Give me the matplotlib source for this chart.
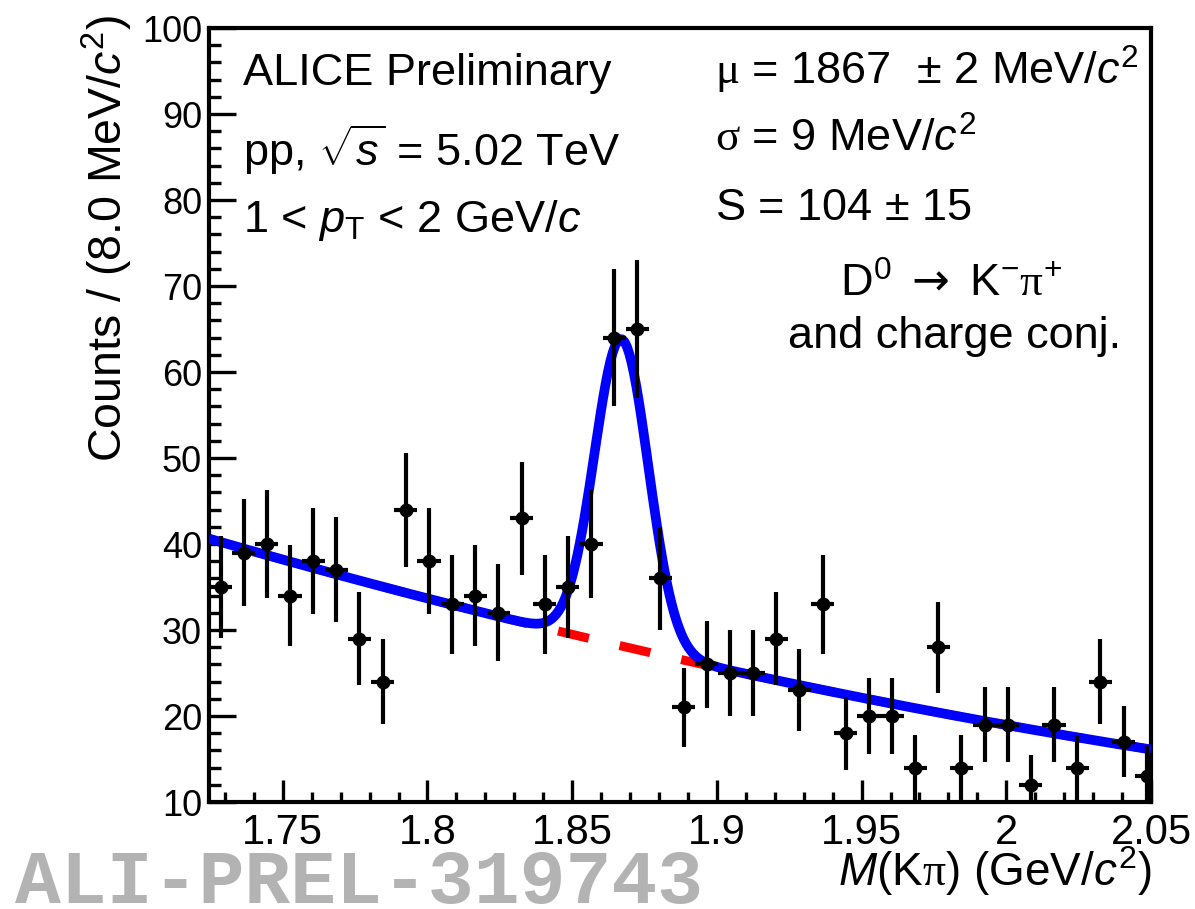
import numpy as np
import matplotlib
matplotlib.use("Agg")
import matplotlib.pyplot as plt
from matplotlib.ticker import MultipleLocator

# invariant-mass histogram, 8 MeV bins
BIN_WIDTH = 0.008
FIRST_CENTER = 1.7285
COUNTS = [35, 39, 40, 34, 38, 37, 29, 24, 44, 38,
          33, 34, 32, 43, 33, 35, 40, 64, 65, 36,
          21, 26, 25, 25, 29, 23, 33, 18, 20, 20,
          14, 28, 14, 19, 19, 12, 19, 14, 24, 17, 13]

# fit parameters (gaussian signal + smooth background)
MU = 1.867
SIGMA = 0.0093
SIGNAL = 104.0
BKG_REF = 1.8
BKG_P0, BKG_P1, BKG_P2 = 33.67, -87.0, 67.0

X_RANGE = (1.7245, 2.05)
Y_RANGE = (10, 100)
X_TICKS = [1.75, 1.8, 1.85, 1.9, 1.95, 2.0, 2.05]
X_TICKLABELS = ["1.75", "1.8", "1.85", "1.9", "1.95", "2", "2.05"]
Y_TICKS = [10, 20, 30, 40, 50, 60, 70, 80, 90, 100]

plt.rcParams["font.family"] = ["Liberation Sans", "DejaVu Sans"]
plt.rcParams["mathtext.fontset"] = "custom"
plt.rcParams["mathtext.rm"] = "Liberation Sans"
plt.rcParams["mathtext.it"] = "Liberation Sans:italic"
plt.rcParams["mathtext.sf"] = "Liberation Serif"
plt.rcParams["mathtext.bf"] = "DejaVu Sans"


def background(m):
    d = m - BKG_REF
    return BKG_P0 + BKG_P1 * d + BKG_P2 * d ** 2


def total(m):
    amp = SIGNAL * BIN_WIDTH / (np.sqrt(2 * np.pi) * SIGMA)
    return background(m) + amp * np.exp(-0.5 * ((m - MU) / SIGMA) ** 2)


W, H = 1195, 909
fig = plt.figure(figsize=(W / 100, H / 100), dpi=100)
ax = fig.add_axes([209 / W, 1 - 802 / H, (1151 - 209) / W, (802 - 28) / H])

counts = np.array(COUNTS, dtype=float)
centers = FIRST_CENTER + BIN_WIDTH * np.arange(len(counts))

m = np.linspace(X_RANGE[0], X_RANGE[1], 400)
ax.plot(m, background(m), color="red", lw=6.5, linestyle=(2.0, (3.5, 3.5)), zorder=2)
ax.plot(m, total(m), color="blue", lw=7, solid_capstyle="butt", zorder=3)

ax.errorbar(centers, counts, yerr=np.sqrt(counts), xerr=BIN_WIDTH / 2,
            fmt="o", color="black", ms=9, elinewidth=3, capsize=0, zorder=4)

ax.set_xlim(*X_RANGE)
ax.set_ylim(*Y_RANGE)
ax.set_xticks(X_TICKS)
ax.set_xticklabels(X_TICKLABELS)
ax.set_yticks(Y_TICKS)
ax.xaxis.set_minor_locator(MultipleLocator(0.01))
ax.yaxis.set_minor_locator(MultipleLocator(2))
ax.tick_params(axis="both", which="both", direction="in", top=False, right=False, width=2.4)
ax.tick_params(axis="x", which="major", length=16, labelsize=30, pad=8)
ax.tick_params(axis="x", which="minor", length=7)
ax.tick_params(axis="y", which="major", length=19.5, labelsize=26, pad=5)
ax.tick_params(axis="y", which="minor", length=8.5)
for sp in ax.spines.values():
    sp.set_linewidth(3)

def fx(px):
    return px / W

def fy(py):
    return 1 - py / H

txt = dict(fontsize=32.5, va="baseline")
fig.text(fx(243), fy(85), "ALICE Preliminary", **txt)
fig.text(fx(243), fy(166), r"pp, $\sqrt{s}$ = 5.02 TeV", **txt)
fig.text(fx(243), fy(232), r"1 < $p_{\mathrm{T}}$ < 2 GeV/$c$", **txt)

fig.text(fx(715), fy(85), r"$\mathsf{\mu}$ = 1867  $\pm$ 2 MeV/$c^{2}$", **txt)
fig.text(fx(715), fy(152), r"$\mathsf{\sigma}$ = 9 MeV/$c^{2}$", **txt)
fig.text(fx(715), fy(220), r"S = 104 $\pm$ 15", **txt)
fig.text(fx(951), fy(297), r"D$^{0}$ $\mathbf{\rightarrow}$ K$^{-}\mathsf{\pi}^{+}$", ha="center", **txt)
fig.text(fx(955), fy(348), "and charge conj.", ha="center", **txt)

fig.text(fx(107), fy(15), r"Counts / (8.0 MeV/$c^{2}$)", rotation=90,
         ha="center", va="top", fontsize=33.5)
fig.text(fx(1152), fy(886), r"$M$(K$\mathsf{\pi}$) (GeV/$c^{2}$)",
         ha="right", va="baseline", fontsize=33)

fig.text(fx(15), fy(903), "ALI-PREL-319743", family=["Liberation Mono", "DejaVu Sans Mono"],
         fontweight="bold", fontsize=55, color="#b3b3b3", va="baseline")

fig.savefig("out.png", dpi=100)
